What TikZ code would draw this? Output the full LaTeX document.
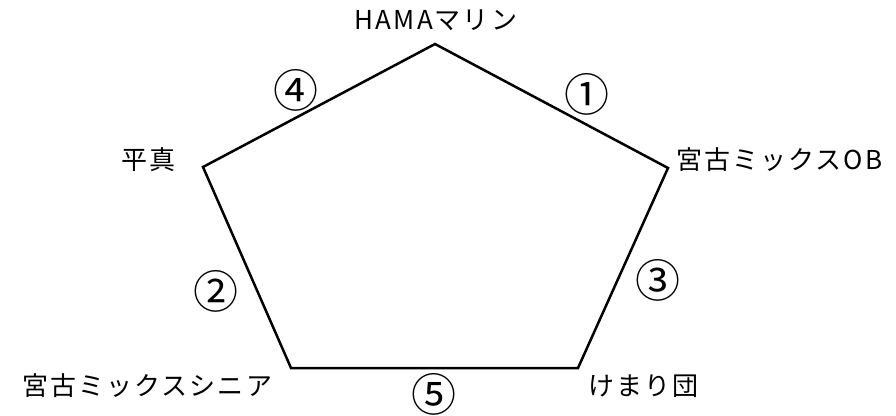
\documentclass[tikz,border=0pt]{standalone}
\usepackage{fontspec}
\setmainfont{Noto Sans CJK JP}
\newfontfamily\teamfont[LetterSpace=8]{Noto Sans CJK JP}
\usetikzlibrary{positioning}
\tikzset{
	team/.style={inner sep=0pt, font=\teamfont\fontsize{26}{30}\selectfont},
	nummark/.style={inner sep=0pt, font=\fontsize{45}{50}\selectfont},
	edge/.style={line width=2.5pt, line join=miter}
}

\begin{document}
\begin{tikzpicture}[x=1pt, y=-1pt]
		%%%%% START %%%%%
		\useasboundingbox (0, 0) rectangle (896, 415);
		
		\coordinate (top) at (435, 44);
		\coordinate (right) at (668, 168);
		\coordinate (botright) at (578, 368);
		\coordinate (botleft) at (291, 368);
		\coordinate (left) at (203, 167);
		
		\draw[edge] (top) -- (right) -- (botright) -- (botleft) -- (left) -- cycle;
		
		\node[team] (hama) at (436, 20) {HAMAマリン};
		\node[team, anchor=west] (ob) at (676, 160) {宮古ミックスOB};
		\node[team, anchor=east] (heishin) at (176, 160) {平真};
		\node[team, anchor=west] (senior) at (22, 386) {宮古ミックスシニア};
		\node[team, anchor=west] (kemari) at (588, 386) {けまり団};
		
		\node[nummark] (n1) at (587, 94) {①};
		\node[nummark] (n2) at (216, 291) {②};
		\node[nummark] (n3) at (658, 280) {③};
		\node[nummark] (n4) at (296, 90) {④};
		\node[nummark] (n5) at (434, 394) {⑤};
		
		%%%%% END %%%%%
	\end{tikzpicture}
\end{document}
